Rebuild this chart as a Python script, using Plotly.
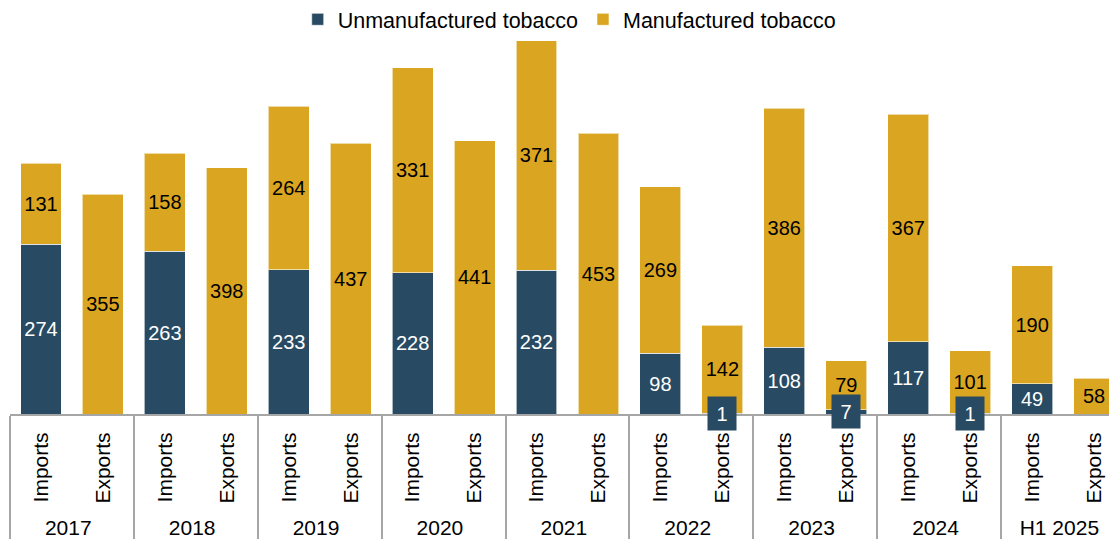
import plotly.graph_objects as go

years = ["2017", "2018", "2019", "2020", "2021", "2022", "2023", "2024", "H1 2025"]
flows = ["Imports", "Exports"]

imports_unmanuf = [274, 263, 233, 228, 232, 98, 108, 117, 49]
imports_manuf = [131, 158, 264, 331, 371, 269, 386, 367, 190]
exports_unmanuf = [0, 0, 0, 0, 0, 1, 7, 1, 0]
exports_manuf = [355, 398, 437, 441, 453, 142, 79, 101, 58]

DARK = "#284B63"
GOLD = "#DAA520"
FONT = "Arial, Liberation Sans, sans-serif"

xo, xi, unman, man = [], [], [], []
for i, y in enumerate(years):
    xo += [y, y]
    xi += ["Imports", "Exports"]
    unman += [imports_unmanuf[i], exports_unmanuf[i]]
    man += [imports_manuf[i], exports_manuf[i]]

SMALL = 20
unman_text = [str(v) if v >= SMALL else "" for v in unman]
man_text = [str(v) if v > 0 else "" for v in man]

fig = go.Figure()
fig.add_trace(go.Bar(
    name="Unmanufactured tobacco", x=[xo, xi], y=unman,
    marker=dict(color=DARK, line=dict(color="rgba(255,255,255,0.6)", width=1)),
    text=unman_text, textposition="inside", insidetextanchor="middle",
    textangle=0, constraintext="none",
    textfont=dict(color="white", size=20, family=FONT),
))
fig.add_trace(go.Bar(
    name="Manufactured tobacco", x=[xo, xi], y=man,
    marker=dict(color=GOLD, line=dict(color="rgba(255,255,255,0.6)", width=1)),
    text=man_text, textposition="inside", insidetextanchor="middle",
    textangle=0, constraintext="none",
    textfont=dict(color="black", size=20, family=FONT),
))

for idx, v in enumerate(unman):
    if 0 < v < SMALL:
        fig.add_annotation(
            x=idx, y=v / 2, xref="x", yref="y", text=str(v), showarrow=False,
            font=dict(color="white", size=20, family=FONT),
            bgcolor=DARK, width=20, height=25, borderpad=4,
            xanchor="center", yanchor="middle",
        )

n_cats = len(xo)
fig.update_layout(
    barmode="stack", bargap=0.34,
    width=1117, height=539,
    margin=dict(l=2, r=0, t=22, b=133, autoexpand=False),
    paper_bgcolor="white", plot_bgcolor="white",
    font=dict(family=FONT, size=20, color="black"),
    showlegend=True,
    legend=dict(orientation="h", x=0.502, xanchor="center", y=0.979, yanchor="middle",
                yref="container", font=dict(size=21.5), itemwidth=30,
                traceorder="normal"),
    xaxis=dict(type="multicategory", tickangle=-90, showline=True,
               range=[-0.5, n_cats - 0.5],
               linecolor="#A6A6A6", linewidth=2, showdividers=True,
               dividercolor="#A6A6A6", dividerwidth=2,
               ticks="", ticklabelstandoff=8,
               tickfont=dict(size=21, color="black"), automargin=False),
    yaxis=dict(range=[0, 620], visible=False, showgrid=False, zeroline=False),
)

fig.write_html("out.html")
